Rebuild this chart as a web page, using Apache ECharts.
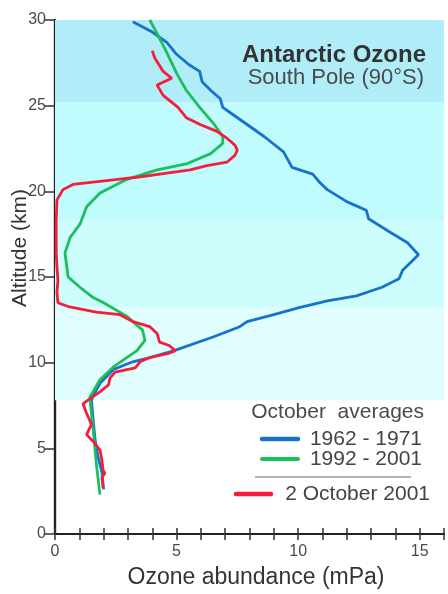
<!DOCTYPE html>
<html>
<head>
<meta charset="utf-8">
<script src="https://cdn.jsdelivr.net/npm/echarts@6/dist/echarts.min.js"></script>
<style>
html,body{margin:0;padding:0;background:#fff;}
#c{width:448px;height:594px;}
</style>
</head>
<body>
<div id="c"></div>
<script>
// ---- data (ozone abundance mPa, altitude km) ----
var xTickLabels = [0, 5, 10, 15];
var yTickLabels = [0, 5, 10, 15, 20, 25, 30];
var seriesNames = ['1962 - 1971', '1992 - 2001', '2 October 2001'];

var avg1962 = [
  [3.2,29.9],[4.0,29.3],[4.6,28.7],[5.0,28.0],[5.5,27.4],[5.95,27.0],[6.05,26.4],[6.4,25.9],
  [6.8,25.4],[6.9,24.9],[7.3,24.5],[7.9,23.9],[8.6,23.2],[9.4,22.3],[9.75,21.4],[10.6,21.0],
  [10.9,20.5],[11.2,20.1],[12.0,19.4],[12.8,18.9],[12.9,18.4],[13.8,17.6],[14.5,17.0],
  [14.95,16.3],[14.3,15.4],[14.15,14.9],[13.45,14.4],[12.4,13.9],[11.2,13.6],[10.0,13.2],
  [9.0,12.8],[7.9,12.4],[7.6,12.1],[6.5,11.5],[4.9,10.7],[3.9,10.3],[3.2,10.05],[2.4,9.6],
  [1.85,8.8],[1.55,8.0],[1.5,7.8],[1.57,6.65],[1.65,5.5],[1.77,4.5],[1.93,3.6],[2.0,2.6]
];
var avg1992 = [
  [3.9,30],[4.2,29.2],[4.6,28.1],[5.0,26.9],[5.4,25.9],[5.95,24.9],[6.5,24.0],[6.9,23.2],
  [6.9,22.8],[6.4,22.2],[5.4,21.6],[4.2,21.25],[2.96,20.7],[1.85,19.9],[1.3,19.1],[1.03,18.1],
  [0.62,17.3],[0.41,16.4],[0.54,15.0],[1.03,14.4],[1.57,13.8],[2.0,13.5],[2.96,12.7],
  [3.6,11.9],[3.7,11.3],[3.37,10.7],[2.4,9.75],[1.85,9.0],[1.44,8.0],[1.44,7.8],[1.57,6.1],
  [1.7,4.1],[1.85,2.3]
];
var oct2001 = [
  [4.0,28.2],[4.1,27.8],[4.45,27.0],[4.8,26.6],[4.2,26.2],[4.45,25.6],[5.06,24.9],[5.4,24.3],
  [5.97,23.9],[6.66,23.5],[7.07,23.1],[7.4,22.7],[7.5,22.4],[7.4,22.1],[7.07,21.7],[6.25,21.5],
  [5.56,21.25],[3.5,20.85],[0.74,20.4],[0.33,20.1],[0.08,19.5],[0.05,18.3],[0.05,16.4],
  [0.08,15.6],[0.12,14.8],[0.08,14.1],[0.12,13.5],[0.6,13.25],[1.7,12.95],[2.67,12.8],
  [3.2,12.4],[3.9,12.1],[4.2,11.7],[4.3,11.2],[4.7,11.0],[4.94,10.7],[4.7,10.55],[3.9,10.3],
  [3.5,10.05],[3.3,9.7],[2.47,9.45],[2.26,9.1],[2.2,8.7],[1.85,8.3],[1.44,7.9],[1.15,7.6],
  [1.3,7.05],[1.5,6.4],[1.3,5.8],[1.57,5.4],[1.85,4.9],[1.93,4.3],[1.98,3.7],[2.05,3.55],
  [1.93,3.3],[1.98,2.7]
];
// altitude band edges of the shaded background (km)
var bandEdges = [7.8, 13.25, 18.3, 25.2, 30];

// ---- styles ----
var bandColors = ['#e0fefe', '#cefdfd', '#c0fbfd', '#b0edf9'];
var lineColors = ['#1872cc', '#1cbf5c', '#f51d3c'];
var FONT = '"Liberation Sans", Arial, Helvetica, sans-serif';

var bandData = [];
for (var i = 0; i < bandEdges.length - 1; i++) {
  bandData.push([
    {yAxis: bandEdges[i], itemStyle: {color: bandColors[i], opacity: 1}},
    {yAxis: bandEdges[i + 1]}
  ]);
}

var chart = echarts.init(document.getElementById('c'), null, {renderer: 'canvas'});

var axisLineStyle = {color: '#222', width: 2.2};
var tickStyle = {color: '#333', width: 1.5};

var option = {
  animation: false,
  backgroundColor: '#ffffff',
  textStyle: {fontFamily: FONT},
  grid: {left: 55, right: 4, top: 20, bottom: 60, containLabel: false},
  xAxis: [
    {
      type: 'value', min: 0, max: 16, interval: 1, position: 'bottom',
      axisLine: {show: true, lineStyle: axisLineStyle},
      axisTick: {show: true, inside: true, length: 6, lineStyle: tickStyle},
      axisLabel: {
        show: true, margin: 10, fontSize: 16, color: '#4a4a4a', fontFamily: FONT,
        formatter: function (v) { return xTickLabels.indexOf(v) >= 0 ? String(v) : ''; }
      },
      splitLine: {show: false}
    },
    {
      type: 'value', min: 0, max: 16, interval: 1, position: 'top',
      axisLine: {show: true, lineStyle: axisLineStyle},
      axisTick: {show: true, inside: true, length: 6, lineStyle: tickStyle},
      axisLabel: {show: false},
      splitLine: {show: false}
    }
  ],
  yAxis: [
    {
      type: 'value', min: 0, max: 30, interval: 5, position: 'left',
      axisLine: {show: true, lineStyle: axisLineStyle},
      axisTick: {show: true, inside: false, length: 8, lineStyle: tickStyle},
      axisLabel: {
        show: true, margin: 9, fontSize: 16, color: '#4a4a4a', fontFamily: FONT,
        formatter: function (v) { return yTickLabels.indexOf(v) >= 0 ? String(v) : ''; }
      },
      splitLine: {show: false}
    },
    {
      type: 'value', min: 0, max: 30, interval: 5, position: 'right',
      axisLine: {show: true, lineStyle: axisLineStyle},
      axisTick: {show: true, inside: true, length: 10, lineStyle: tickStyle},
      axisLabel: {show: false},
      splitLine: {show: false}
    }
  ],
  series: [
    {
      type: 'line', name: 'bands', data: [], z: 1, silent: true,
      markArea: {silent: true, data: bandData}
    },
    {
      type: 'line', name: seriesNames[0], data: avg1962, z: 3,
      showSymbol: false, symbol: 'none', smooth: false,
      lineStyle: {color: lineColors[0], width: 2.8}
    },
    {
      type: 'line', name: seriesNames[1], data: avg1992, z: 4,
      showSymbol: false, symbol: 'none', smooth: false,
      lineStyle: {color: lineColors[1], width: 2.8}
    },
    {
      type: 'line', name: seriesNames[2], data: oct2001, z: 5,
      showSymbol: false, symbol: 'none', smooth: false,
      lineStyle: {color: lineColors[2], width: 2.8}
    }
  ],
  graphic: [
    {type: 'text', x: 426, y: 55, z: 10,
      style: {text: 'Antarctic Ozone', font: 'bold 24px ' + FONT, fill: '#333', textAlign: 'right', textVerticalAlign: 'middle'}},
    {type: 'text', x: 424, y: 78, z: 10,
      style: {text: 'South Pole (90°S)', font: '22px ' + FONT, fill: '#4a4a4a', textAlign: 'right', textVerticalAlign: 'middle'}},
    {type: 'text', x: 424, y: 412, z: 10,
      style: {text: 'October  averages', font: '21px ' + FONT, fill: '#4a4a4a', textAlign: 'right', textVerticalAlign: 'middle'}},
    {type: 'line', z: 10, shape: {x1: 262, y1: 439, x2: 298, y2: 439},
      style: {stroke: lineColors[0], lineWidth: 4.5, lineCap: 'round'}},
    {type: 'text', x: 422, y: 439, z: 10,
      style: {text: seriesNames[0], font: '21px ' + FONT, fill: '#444', textAlign: 'right', textVerticalAlign: 'middle'}},
    {type: 'line', z: 10, shape: {x1: 262, y1: 459, x2: 298, y2: 459},
      style: {stroke: lineColors[1], lineWidth: 4, lineCap: 'round'}},
    {type: 'text', x: 422, y: 459, z: 10,
      style: {text: seriesNames[1], font: '21px ' + FONT, fill: '#444', textAlign: 'right', textVerticalAlign: 'middle'}},
    {type: 'line', z: 10, shape: {x1: 255, y1: 477, x2: 411, y2: 477},
      style: {stroke: '#666', lineWidth: 1}},
    {type: 'line', z: 10, shape: {x1: 236, y1: 494, x2: 271, y2: 494},
      style: {stroke: lineColors[2], lineWidth: 4.5, lineCap: 'round'}},
    {type: 'text', x: 430, y: 494, z: 10,
      style: {text: seriesNames[2], font: '21px ' + FONT, fill: '#444', textAlign: 'right', textVerticalAlign: 'middle'}},
    {type: 'text', x: 256, y: 578, z: 10,
      style: {text: 'Ozone abundance (mPa)', font: '23px ' + FONT, fill: '#333', textAlign: 'center', textVerticalAlign: 'middle'}},
    {type: 'text', x: 20, y: 248, rotation: Math.PI / 2, z: 10,
      style: {text: 'Altitude (km)', font: '21px ' + FONT, fill: '#333', textAlign: 'center', textVerticalAlign: 'middle'}}
  ]
};
chart.setOption(option);
</script>
</body>
</html>
